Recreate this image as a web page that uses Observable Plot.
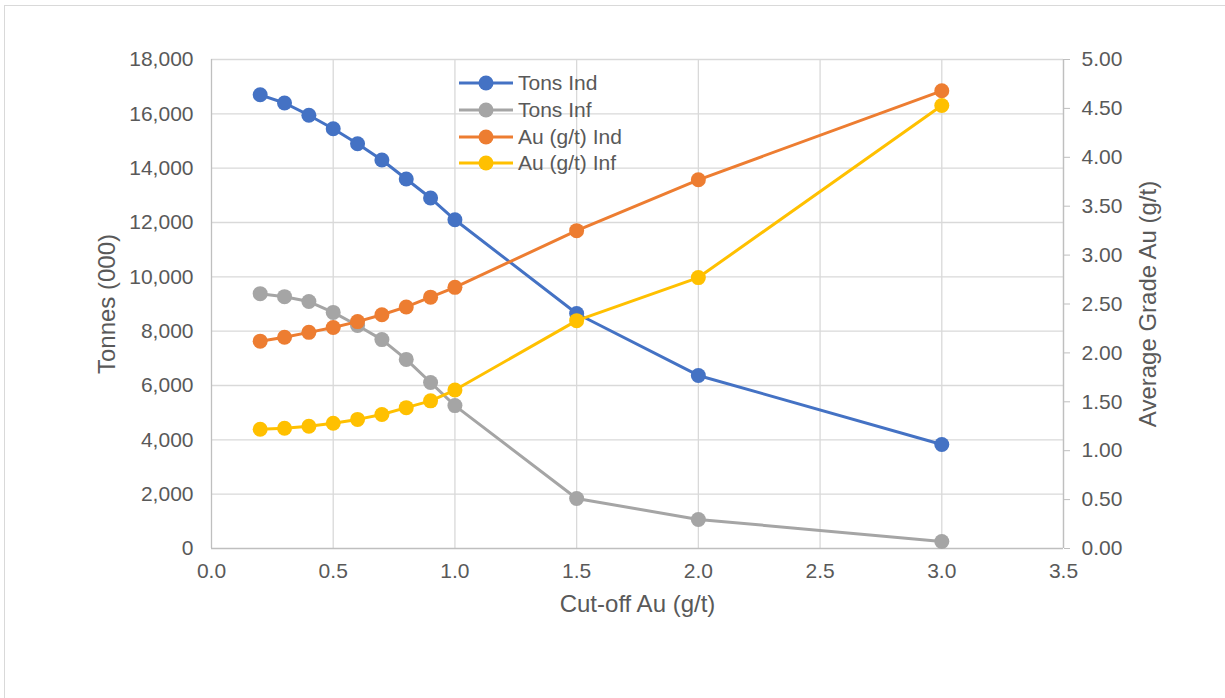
<!DOCTYPE html>
<html>
<head>
<meta charset="utf-8">
<script src="https://cdn.jsdelivr.net/npm/d3@7"></script>
<script src="https://cdn.jsdelivr.net/npm/@observablehq/plot@0.6"></script>
<style>
  html, body { margin: 0; padding: 0; background: #fff; }
  #wrap { position: relative; width: 1225px; height: 698px; overflow: hidden; font-family: "Liberation Sans", Arial, sans-serif; }
  #border { position: absolute; left: 4px; top: 5px; width: 1240px; height: 720px; border: 1.5px solid #d9d9d9; box-sizing: border-box; }
  #chart { position: absolute; left: 0; top: 0; }
  #legend { position: absolute; left: 458px; top: 70px; color: #595959; font-size: 21px; }
  .row { display: flex; align-items: center; height: 26.7px; }
  .row svg { margin-right: 4px; }
  #chart g[aria-label="x-axis label"] text,
  #chart g[aria-label="y-axis label"] text { font-size: 24px; }
</style>
</head>
<body>
<div id="wrap">
  <div id="border"></div>
  <div id="chart"></div>
  <div id="legend"></div>
</div>
<script>
const cutoff = [0.2, 0.3, 0.4, 0.5, 0.6, 0.7, 0.8, 0.9, 1.0, 1.5, 2.0, 3.0];
const tonsInd = [16700, 16400, 15950, 15450, 14900, 14300, 13600, 12900, 12100, 8650, 6370, 3830];
const tonsInf = [9380, 9270, 9090, 8690, 8210, 7690, 6960, 6110, 5260, 1840, 1070, 260];
const auInd = [2.12, 2.16, 2.21, 2.26, 2.32, 2.39, 2.47, 2.57, 2.67, 3.25, 3.77, 4.68];
const auInf = [1.22, 1.23, 1.25, 1.28, 1.32, 1.37, 1.44, 1.51, 1.62, 2.33, 2.77, 4.53];
const seriesNames = ["Tons Ind", "Tons Inf", "Au (g/t) Ind", "Au (g/t) Inf"];
const seriesColors = ["#4472C4", "#A5A5A5", "#ED7D31", "#FFC000"];
const leftTicks = [0, 2000, 4000, 6000, 8000, 10000, 12000, 14000, 16000, 18000];
const rightTicks = [0, 0.5, 1, 1.5, 2, 2.5, 3, 3.5, 4, 4.5, 5];
const xTicks = [0, 0.5, 1, 1.5, 2, 2.5, 3, 3.5];

const k = 18000 / 5; // right axis -> left axis factor
const series = [
  {name: seriesNames[0], values: tonsInd, scale: 1},
  {name: seriesNames[1], values: tonsInf, scale: 1},
  {name: seriesNames[2], values: auInd, scale: k},
  {name: seriesNames[3], values: auInf, scale: k}
];
const data = series.flatMap((s, i) => cutoff.map((x, j) => ({x, y: s.values[j] * s.scale, series: s.name, order: i})));

const textColor = "#595959";
const marks = [
  Plot.gridX(xTicks.slice(1), {stroke: "#d9d9d9", strokeOpacity: 1, strokeWidth: 1.3}),
  Plot.gridY(leftTicks.slice(1), {stroke: "#d9d9d9", strokeOpacity: 1, strokeWidth: 1.3}),
  Plot.ruleX([0], {stroke: "#bfbfbf", strokeWidth: 1.3}),
  Plot.ruleX([3.5], {stroke: "#bfbfbf", strokeWidth: 1.3}),
  Plot.ruleY([0], {stroke: "#bfbfbf", strokeWidth: 1.3}),
  Plot.axisX({ticks: xTicks, tickFormat: d3.format(".1f"), tickSize: 0, tickPadding: 15, label: "Cut-off Au (g/t)", labelArrow: "none", labelAnchor: "center", labelOffset: 63, fill: textColor}),
  Plot.axisY({anchor: "left", ticks: leftTicks, tickFormat: d3.format(","), tickSize: 0, tickPadding: 18, label: "Tonnes (000)", labelArrow: "none", labelAnchor: "center", labelOffset: 114, fill: textColor}),
  Plot.axisY({anchor: "right", ticks: rightTicks.map(v => v * k), tickFormat: d => (d / k).toFixed(2), tickSize: 6, stroke: "#bfbfbf", tickPadding: 12, label: "Average Grade Au (g/t)", labelArrow: "none", labelAnchor: "center", labelOffset: 92, fill: textColor})
];
series.forEach((s, i) => {
  const d = data.filter(r => r.series === s.name);
  marks.push(Plot.line(d, {x: "x", y: "y", stroke: seriesColors[i], strokeWidth: 3}));
  marks.push(Plot.dot(d, {x: "x", y: "y", fill: seriesColors[i], r: 7.5}));
});

const chart = Plot.plot({
  width: 1225,
  height: 698,
  marginLeft: 211,
  marginRight: 162,
  marginTop: 59,
  marginBottom: 150,
  x: {domain: [0, 3.5]},
  y: {domain: [0, 18000]},
  style: {fontFamily: '"Liberation Sans", Arial, sans-serif', fontSize: "21px", color: textColor, background: "transparent", overflow: "visible"},
  marks
});
document.getElementById("chart").appendChild(chart);

const legend = document.getElementById("legend");
seriesNames.forEach((name, i) => {
  const row = document.createElement("div");
  row.className = "row";
  row.innerHTML = `<svg width="56" height="18"><line x1="1" x2="55" y1="9" y2="9" stroke="${seriesColors[i]}" stroke-width="3"/><circle cx="28" cy="9" r="7.5" fill="${seriesColors[i]}"/></svg><span>${name}</span>`;
  legend.appendChild(row);
});
</script>
</body>
</html>
